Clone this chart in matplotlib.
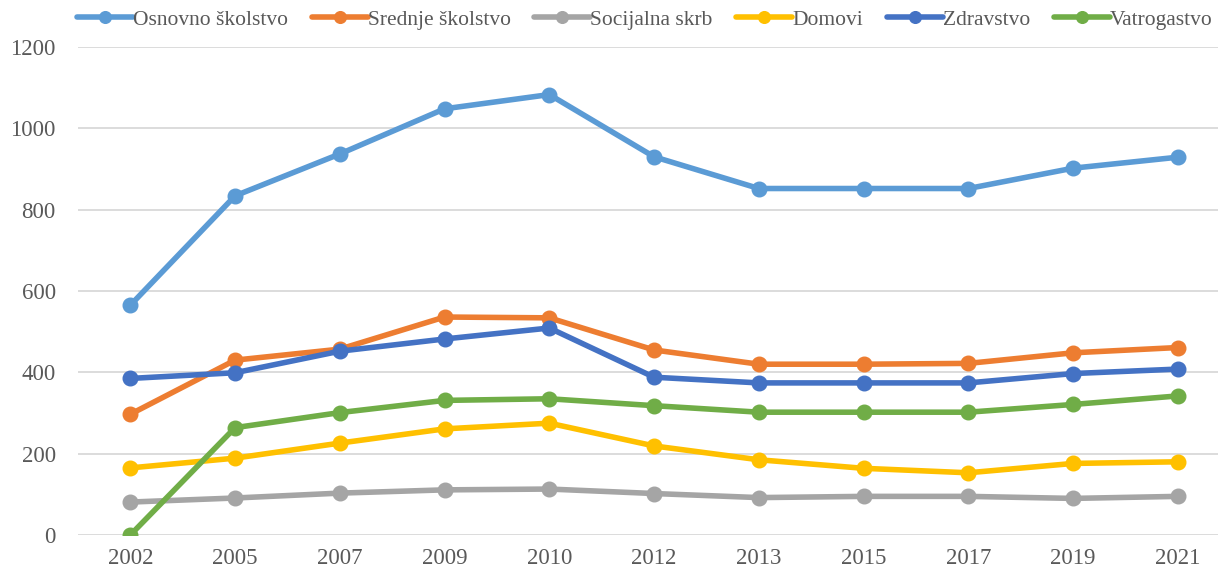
import matplotlib
matplotlib.use("Agg")
import matplotlib.pyplot as plt
import numpy as np

plt.rcParams["font.family"] = ["Liberation Serif", "DejaVu Serif"]

years = ["2002", "2005", "2007", "2009", "2010", "2012", "2013", "2015", "2017", "2019", "2021"]

osnovno = [565, 834, 937, 1048, 1083, 930, 852, 852, 852, 902, 929]
srednje = [297, 430, 457, 536, 534, 455, 420, 420, 422, 448, 461]
socijalna = [81, 91, 103, 111, 113, 102, 92, 95, 95, 90, 95]
domovi = [165, 189, 226, 261, 275, 219, 185, 164, 153, 176, 180]
zdravstvo = [385, 399, 452, 482, 509, 388, 374, 374, 374, 397, 408]
vatrogastvo = [0, 264, 301, 331, 335, 318, 302, 302, 302, 321, 342]

series = [
    ("Osnovno školstvo", osnovno, "#5B9BD5"),
    ("Srednje školstvo", srednje, "#ED7D31"),
    ("Socijalna skrb", socijalna, "#A5A5A5"),
    ("Domovi", domovi, "#FFC000"),
    ("Zdravstvo", zdravstvo, "#4472C4"),
    ("Vatrogastvo", vatrogastvo, "#70AD47"),
]

fig = plt.figure(figsize=(12.18, 5.73), dpi=100)
ax = fig.add_axes([0.064, 0.0663, 0.946, 0.8517])

x = np.arange(len(years))
for name, vals, color in series:
    ax.plot(x, vals, color=color, lw=4.0, marker="o", ms=10.5,
            solid_capstyle="round", label=name, zorder=3)

ax.set_xlim(-0.5, len(years) - 0.5)
ax.set_ylim(0, 1200)
ax.set_yticks(range(0, 1201, 200))
ax.set_xticks(x, labels=years)
ax.yaxis.grid(True, color="#D9D9D9", lw=1.3)
ax.set_axisbelow(True)
for s in ax.spines.values():
    s.set_visible(False)
ax.tick_params(axis="both", length=0, labelsize=16.5, labelcolor="#595959")
ax.tick_params(axis="y", pad=16)
ax.tick_params(axis="x", pad=9)

fig.legend(loc="center left", bbox_to_anchor=(77 / 1218, 1 - 20 / 573), ncol=6, frameon=False,
           fontsize=15.5, labelcolor="#595959", handlelength=2.6, handletextpad=0.0,
           columnspacing=1.1, markerscale=0.8, borderaxespad=0, borderpad=0)

fig.savefig("out.png", dpi=100)
